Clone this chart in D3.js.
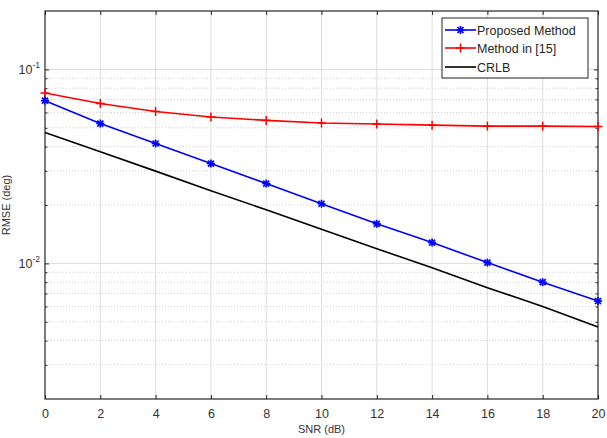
<!DOCTYPE html>
<html><head><meta charset="utf-8">
<script src="https://cdn.jsdelivr.net/npm/d3@7"></script>
<style>body{margin:0;background:#fff;} text{font-family:"Liberation Sans",Arial,sans-serif;fill:#333;}</style>
</head><body>
<svg id="c" width="607" height="438"></svg>
<script>
const snr = [0, 2, 4, 6, 8, 10, 12, 14, 16, 18, 20];
const proposed = [0.0690, 0.0526, 0.0415, 0.0327, 0.0258, 0.0203, 0.0160, 0.0128, 0.0101, 0.0080, 0.0064];
const method15 = [0.0755, 0.0667, 0.0607, 0.0568, 0.0546, 0.0529, 0.0523, 0.0516, 0.0510, 0.0510, 0.0508];
const crlb = [0.0473, 0.0376, 0.0299, 0.0237, 0.0189, 0.0150, 0.0119, 0.0095, 0.0075, 0.0060, 0.0047];
const xTicks = [0, 2, 4, 6, 8, 10, 12, 14, 16, 18, 20];
const yMajor = [0.1, 0.01];
const yMinor = [0.003,0.004,0.005,0.006,0.007,0.008,0.009,0.02,0.03,0.04,0.05,0.06,0.07,0.08,0.09];
const seriesNames = ["Proposed Method", "Method in [15]", "CRLB"];

const L = 45, R = 598, T = 11, B = 399;
const svg = d3.select("#c");
const x = d3.scaleLinear().domain([0, 20]).range([L, R]);
const y = d3.scaleLog().domain([0.002, 0.2]).range([B, T]);

// grid
const g = svg.append("g");
g.selectAll(".ymin").data(yMinor).enter().append("line")
  .attr("x1", L).attr("x2", R).attr("y1", d => y(d)).attr("y2", d => y(d))
  .attr("stroke", "#cfcfcf").attr("stroke-width", 1).attr("stroke-dasharray", "1,2");
g.selectAll(".ymaj").data(yMajor).enter().append("line")
  .attr("x1", L).attr("x2", R).attr("y1", d => y(d)).attr("y2", d => y(d))
  .attr("stroke", "#dedede").attr("stroke-width", 1);
g.selectAll(".xg").data(xTicks.slice(1, -1)).enter().append("line")
  .attr("x1", d => x(d)).attr("x2", d => x(d)).attr("y1", T).attr("y2", B)
  .attr("stroke", "#dedede").attr("stroke-width", 1);

// axes
const ax = svg.append("g").attr("transform", `translate(0,${B})`)
  .call(d3.axisBottom(x).tickValues(xTicks).tickSize(-4).tickPadding(10).tickSizeOuter(0));
const axT = svg.append("g").attr("transform", `translate(0,${T})`)
  .call(d3.axisTop(x).tickValues(xTicks).tickSize(-4).tickFormat("").tickSizeOuter(0));
const ayL = svg.append("g").attr("transform", `translate(${L},0)`)
  .call(d3.axisLeft(y).tickValues(yMajor).tickSize(-4).tickFormat("").tickSizeOuter(0));
const ayR = svg.append("g").attr("transform", `translate(${R},0)`)
  .call(d3.axisRight(y).tickValues(yMajor).tickSize(-4).tickFormat("").tickSizeOuter(0));
const ayLm = svg.append("g").attr("transform", `translate(${L},0)`)
  .call(d3.axisLeft(y).tickValues(yMinor).tickSize(-2.5).tickFormat("").tickSizeOuter(0));
const ayRm = svg.append("g").attr("transform", `translate(${R},0)`)
  .call(d3.axisRight(y).tickValues(yMinor).tickSize(-2.5).tickFormat("").tickSizeOuter(0));
[ax, axT, ayL, ayR, ayLm, ayRm].forEach(a => {
  a.select(".domain").remove();
  a.selectAll("line").attr("stroke", "#262626");
});
ax.selectAll("text").attr("font-size", 12.5).style("fill", "#333");

// y labels as 10^n
yMajor.forEach(v => {
  const e = Math.round(Math.log10(v));
  const t = svg.append("text").attr("x", L - 5).attr("y", y(v) + 5).attr("text-anchor", "end").attr("font-size", 12.5);
  t.append("tspan").text("10");
  t.append("tspan").attr("dy", -6).attr("font-size", 8.5).text("-" + Math.abs(e));
});

// box
svg.append("rect").attr("x", L).attr("y", T).attr("width", R - L).attr("height", B - T)
  .attr("fill", "none").attr("stroke", "#262626").attr("stroke-width", 1.2);

// axis labels
svg.append("text").attr("x", (L + R) / 2).attr("y", 433).attr("text-anchor", "middle").attr("font-size", 11).text("SNR (dB)");
svg.append("text").attr("transform", `translate(10,${(T + B) / 2}) rotate(-90)`).attr("text-anchor", "middle").attr("font-size", 11).text("RMSE (deg)");

// lines
const line = d3.line().x((d, i) => x(snr[i])).y(d => y(d));
const plot = svg.append("g");
function star(sel, cx, cy, col) {
  const s = 4;
  const gg = sel.append("g").attr("stroke", col).attr("stroke-width", 1.7);
  gg.append("line").attr("x1", cx - s).attr("x2", cx + s).attr("y1", cy).attr("y2", cy);
  gg.append("line").attr("x1", cx).attr("x2", cx).attr("y1", cy - s).attr("y2", cy + s);
  gg.append("line").attr("x1", cx - s * 0.75).attr("x2", cx + s * 0.75).attr("y1", cy - s * 0.75).attr("y2", cy + s * 0.75);
  gg.append("line").attr("x1", cx - s * 0.75).attr("x2", cx + s * 0.75).attr("y1", cy + s * 0.75).attr("y2", cy - s * 0.75);
}
function plus(sel, cx, cy, col) {
  const s = 4.5;
  const gg = sel.append("g").attr("stroke", col).attr("stroke-width", 1.5);
  gg.append("line").attr("x1", cx - s).attr("x2", cx + s).attr("y1", cy).attr("y2", cy);
  gg.append("line").attr("x1", cx).attr("x2", cx).attr("y1", cy - s).attr("y2", cy + s);
}
plot.append("path").datum(crlb).attr("d", line).attr("fill", "none").attr("stroke", "#000").attr("stroke-width", 1.6);
plot.append("path").datum(method15).attr("d", line).attr("fill", "none").attr("stroke", "#ff0000").attr("stroke-width", 1.6);
method15.forEach((v, i) => plus(plot, x(snr[i]), y(v), "#ff0000"));
plot.append("path").datum(proposed).attr("d", line).attr("fill", "none").attr("stroke", "#0000ff").attr("stroke-width", 1.6);
proposed.forEach((v, i) => star(plot, x(snr[i]), y(v), "#0000ff"));

// legend
const lg = svg.append("g");
lg.append("rect").attr("x", 442).attr("y", 18).attr("width", 146).attr("height", 60)
  .attr("fill", "#fff").attr("stroke", "#262626").attr("stroke-width", 1);
const cols = ["#0000ff", "#ff0000", "#000"];
const rowsY = [30, 48, 67];
seriesNames.forEach((n, i) => {
  lg.append("line").attr("x1", 445).attr("x2", 476).attr("y1", rowsY[i]).attr("y2", rowsY[i])
    .attr("stroke", cols[i]).attr("stroke-width", 1.6);
  if (i === 0) star(lg, 460.5, rowsY[i], cols[i]);
  if (i === 1) plus(lg, 460.5, rowsY[i], cols[i]);
  lg.append("text").attr("x", 477).attr("y", rowsY[i] + 4.5).attr("font-size", 12.5).style("fill", "#262626").text(n);
});
</script>
</body></html>
